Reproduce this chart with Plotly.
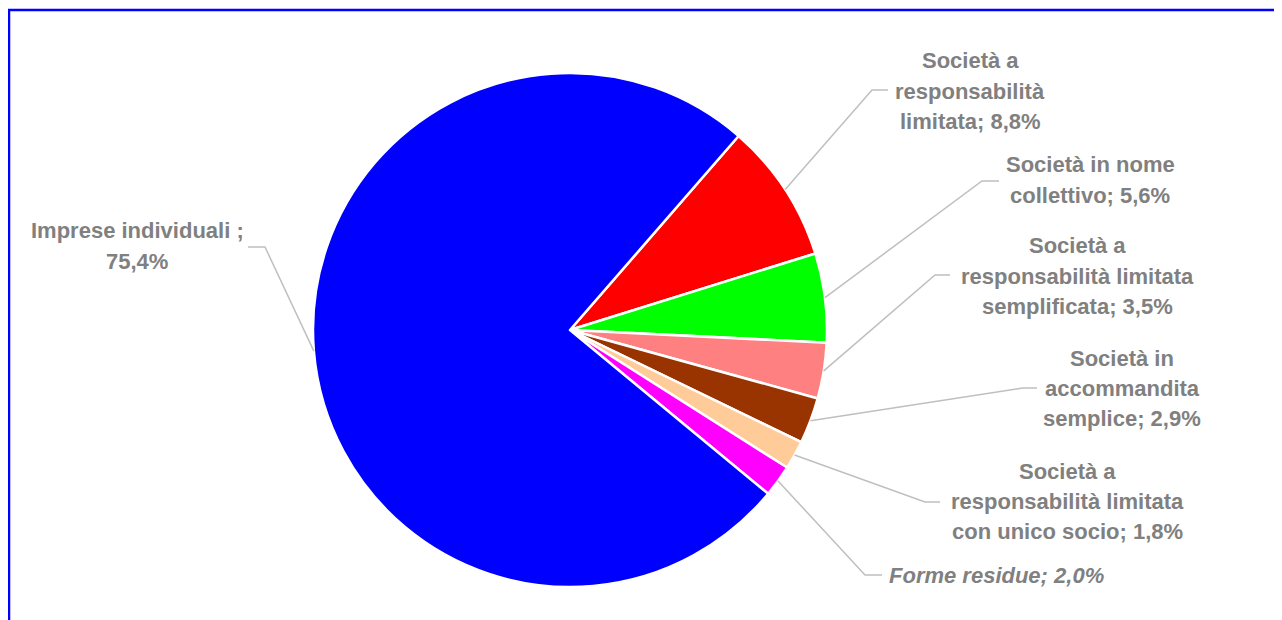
import math
import plotly.graph_objects as go

# ---- data ----
categories = [
    "Società a responsabilità limitata",
    "Società in nome collettivo",
    "Società a responsabilità limitata semplificata",
    "Società in accommandita semplice",
    "Società a responsabilità limitata con unico socio",
    "Forme residue",
    "Imprese individuali",
]
values = [8.8, 5.6, 3.5, 2.9, 1.8, 2.0, 75.4]
colors = ["#FF0000", "#00FF00", "#FF8080", "#993300", "#FFCC99", "#FF00FF", "#0000FF"]
label_lines = [
    ["Società a", "responsabilità", "limitata; 8,8%"],
    ["Società in nome", "collettivo; 5,6%"],
    ["Società a", "responsabilità limitata", "semplificata; 3,5%"],
    ["Società in", "accommandita", "semplice; 2,9%"],
    ["Società a", "responsabilità limitata", "con unico socio; 1,8%"],
    ["Forme residue; 2,0%"],
    ["Imprese individuali ;", "75,4%"],
]
label_italic = [False, False, False, False, False, True, False]

# ---- layout constants (pixels, in window coordinates) ----
W, H = 1282, 620
OFF = 8  # page body margin
CX, CY, R = 570, 330, 257
ROT = 41.0
LINE_H = 30
label_pos = [(970, 91, "center"), (1090, 180, "center"), (1077, 276, "center"),
             (1122, 388, "center"), (1067, 501, "center"), (887, 575, "left"),
             (137, 246, "center")]
elbows = [((872, 90), (888, 90)), ((982, 181), (999, 181)), ((935, 275), (950, 275)),
          ((1023, 388), (1037, 388)), ((925, 502), (940, 502)), ((865, 575), (882, 575)),
          ((265, 247), (248, 247))]

def px(x):
    return (x - OFF) / W

def py(y):
    return 1 - (y - OFF) / H

fig = go.Figure()
fig.add_trace(go.Pie(
    labels=categories, values=values, sort=False, direction="clockwise",
    rotation=ROT, textinfo="none", hoverinfo="label+percent",
    marker=dict(colors=colors, line=dict(color="white", width=2.5)),
    domain=dict(x=[px(CX - R), px(CX + R)], y=[py(CY + R), py(CY - R)]),
    showlegend=False,
))

shapes = []
annotations = []
total = sum(values)
cum = 0
for i, v in enumerate(values):
    mid = math.radians(ROT + (cum + v / 2) / total * 360)
    cum += v
    sx = CX + R * math.sin(mid)
    sy = CY - R * math.cos(mid)
    (ex, ey), (fx, fy) = elbows[i]
    path = f"M {px(sx)},{py(sy)} L {px(ex)},{py(ey)} L {px(fx)},{py(fy)}"
    shapes.append(dict(type="path", xref="paper", yref="paper", path=path,
                       line=dict(color="#BFBFBF", width=1.5)))
    lx, ly, anc = label_pos[i]
    lines = label_lines[i]
    n = len(lines)
    for j, t in enumerate(lines):
        yy = ly + (j - (n - 1) / 2) * LINE_H
        annotations.append(dict(
            x=px(lx), y=py(yy), xref="paper", yref="paper", text=t,
            showarrow=False, xanchor=anc, yanchor="middle", align="center",
            font=dict(family="Liberation Sans, Arial, sans-serif", size=22,
                      color="#808080", weight="bold",
                      style="italic" if label_italic[i] else "normal"),
        ))

shapes.append(dict(type="rect", xref="paper", yref="paper",
                   x0=px(9), x1=1.05, y0=-0.05, y1=py(10),
                   line=dict(color="#0000FF", width=2.5)))

fig.update_layout(
    width=W, height=H, margin=dict(l=0, r=0, t=0, b=0),
    paper_bgcolor="white", plot_bgcolor="white",
    shapes=shapes, annotations=annotations,
)
fig.write_html("out.html")
